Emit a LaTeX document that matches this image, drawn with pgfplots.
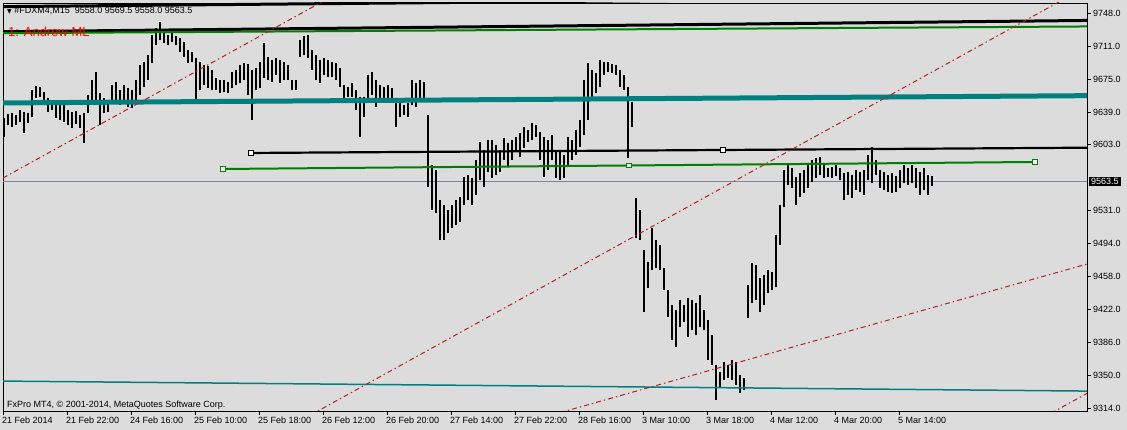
\documentclass[border=0pt]{standalone}
\usepackage{pgfplots}
\usepackage{pgfplotstable}
\pgfplotsset{compat=1.18}
\usepackage{fontspec}
\setmainfont{Liberation Sans}
\newfontfamily\dejavu{DejaVu Sans}
\definecolor{bgc}{RGB}{220,220,220}
\definecolor{mtgreen}{RGB}{0,128,0}
\definecolor{mtteal}{RGB}{0,128,128}
\definecolor{mtred}{RGB}{178,34,34}
\definecolor{pricegray}{RGB}{122,134,146}

\pgfplotstableread{
x lo hi
4 9612.0 9632.9
8 9625.2 9637.3
12 9623.0 9638.4
16 9625.2 9636.2
20 9628.5 9641.7
24 9616.4 9639.5
28 9627.4 9638.4
32 9634.0 9663.7
36 9654.9 9668.1
40 9656.0 9667.0
44 9649.4 9661.5
48 9639.5 9654.9
52 9641.7 9652.7
56 9632.9 9649.4
60 9630.7 9647.2
64 9628.5 9648.3
68 9625.2 9641.7
72 9621.9 9639.5
76 9626.3 9640.6
80 9621.9 9636.2
84 9605.4 9638.4
88 9638.4 9658.2
92 9649.4 9674.7
96 9652.7 9683.5
100 9625.2 9660.4
104 9638.4 9654.9
108 9639.5 9652.7
112 9649.4 9669.2
116 9652.7 9672.5
120 9647.2 9663.7
124 9649.4 9669.2
128 9645.0 9665.9
132 9643.9 9663.7
136 9652.7 9674.7
140 9658.2 9691.2
144 9667.0 9694.5
148 9674.7 9702.2
152 9693.4 9724.2
156 9713.2 9731.9
160 9718.7 9738.5
164 9715.4 9727.5
168 9713.2 9724.2
172 9716.5 9726.4
176 9713.2 9723.1
180 9705.5 9720.9
184 9700.0 9716.5
188 9693.4 9707.7
192 9694.5 9705.5
196 9652.7 9698.9
200 9663.7 9694.5
204 9669.2 9691.2
208 9665.9 9690.1
212 9663.7 9685.7
216 9663.7 9676.9
220 9660.4 9674.7
224 9661.5 9674.7
228 9660.4 9672.5
232 9665.9 9683.5
236 9669.2 9685.7
240 9671.4 9691.2
244 9674.7 9693.4
248 9658.2 9692.3
252 9630.7 9685.7
256 9663.7 9687.9
260 9665.9 9694.5
264 9676.9 9715.4
268 9674.7 9700.0
272 9672.5 9696.7
276 9680.2 9698.9
280 9671.4 9696.7
284 9674.7 9694.5
288 9674.7 9691.2
292 9663.7 9674.7
296 9663.7 9674.7
300 9700.0 9718.7
304 9702.2 9723.1
308 9698.9 9724.2
312 9685.7 9707.7
316 9674.7 9702.2
320 9671.4 9696.7
324 9680.2 9698.9
328 9678.0 9696.7
332 9678.0 9694.5
336 9674.7 9693.4
340 9667.0 9687.9
344 9652.7 9669.2
348 9656.0 9667.0
352 9656.0 9671.4
356 9641.7 9663.7
360 9612.0 9656.0
364 9634.0 9656.0
368 9652.7 9680.2
372 9658.2 9683.5
376 9645.0 9674.7
380 9649.4 9669.2
384 9652.7 9667.0
388 9649.4 9669.2
392 9652.7 9665.9
396 9623.0 9650.5
400 9634.0 9649.4
404 9636.2 9647.2
408 9634.0 9649.4
412 9647.2 9674.7
416 9645.0 9671.4
420 9652.7 9674.7
424 9650.5 9672.5
428 9557.0 9636.2
432 9531.7 9581.2
436 9528.4 9575.7
440 9498.7 9542.7
444 9498.7 9537.2
448 9506.4 9531.7
452 9511.9 9537.2
456 9515.2 9542.7
460 9518.5 9546.0
464 9537.2 9568.0
468 9542.7 9570.2
472 9537.2 9566.9
476 9548.2 9586.7
480 9564.7 9606.5
484 9557.0 9597.7
488 9573.5 9608.7
492 9566.9 9608.7
496 9570.2 9603.2
500 9573.5 9597.7
504 9586.7 9610.9
508 9579.0 9605.4
512 9586.7 9608.7
516 9597.7 9612.0
520 9590.0 9616.4
524 9599.9 9623.0
528 9606.5 9619.7
532 9608.7 9627.4
536 9612.0 9625.2
540 9586.7 9617.5
544 9568.0 9612.0
548 9575.7 9608.7
552 9586.7 9614.2
556 9566.9 9597.7
560 9564.7 9597.7
564 9566.9 9592.2
568 9579.0 9612.0
572 9586.7 9608.7
576 9592.2 9619.7
580 9601.0 9630.7
584 9614.2 9674.7
588 9630.7 9693.4
592 9652.7 9685.7
596 9660.4 9682.4
600 9667.0 9696.7
604 9680.2 9694.5
608 9683.5 9694.5
612 9682.4 9692.3
616 9680.2 9691.2
620 9667.0 9685.7
624 9663.7 9680.2
628 9588.9 9667.0
632 9623.0 9650.5
636 9500.9 9544.9
640 9498.7 9531.7
644 9419.5 9487.7
648 9445.9 9474.5
652 9465.7 9511.9
656 9467.9 9498.7
660 9465.7 9493.2
664 9443.7 9467.9
668 9414.0 9443.7
672 9388.7 9427.2
676 9381.0 9421.7
680 9403.0 9432.7
684 9408.5 9427.2
688 9392.0 9434.9
692 9399.7 9432.7
696 9394.2 9429.4
700 9403.0 9438.2
704 9399.7 9421.7
708 9366.7 9410.7
712 9361.2 9394.2
716 9322.7 9361.2
720 9335.9 9353.5
724 9344.7 9364.5
728 9346.9 9361.2
732 9344.7 9366.7
736 9339.2 9364.5
740 9330.4 9350.2
744 9333.7 9346.9
748 9412.9 9449.2
752 9429.4 9473.4
756 9432.7 9471.2
760 9419.5 9456.9
764 9427.2 9460.2
768 9440.4 9465.7
772 9443.7 9463.5
776 9446.9 9504.2
780 9493.2 9537.2
784 9535.0 9575.7
788 9559.2 9581.2
792 9555.9 9577.9
796 9537.2 9568.0
800 9546.0 9572.4
804 9550.4 9575.7
808 9555.9 9581.2
812 9562.5 9586.7
816 9566.9 9588.9
820 9570.2 9590.0
824 9566.9 9581.2
828 9568.0 9577.9
832 9566.9 9579.0
836 9569.1 9581.2
840 9564.7 9577.9
844 9542.7 9572.4
848 9548.2 9573.5
852 9544.9 9570.2
856 9553.7 9575.7
860 9551.5 9573.5
864 9548.2 9575.7
868 9564.7 9592.2
872 9561.4 9601.0
876 9570.2 9586.7
880 9555.9 9575.7
884 9553.7 9573.5
888 9551.5 9570.2
892 9550.4 9572.4
896 9551.5 9569.1
900 9555.9 9575.7
904 9561.4 9581.2
908 9559.2 9577.9
912 9561.4 9581.2
916 9555.9 9577.9
920 9548.2 9573.5
924 9553.7 9577.9
928 9548.2 9570.2
932 9558.0 9569.5
}\bars

\begin{document}
\begin{tikzpicture}
\fill[bgc] (0,0) rectangle (1127pt,430pt);
\path[use as bounding box] (0,0) rectangle (1127pt,430pt);
\begin{axis}[
  at={(3pt,19pt)}, anchor=south west,
  scale only axis, width=1084pt, height=408pt,
  xmin=3, xmax=1087, ymin=9310.7, ymax=9759.3,
  axis background/.style={fill=bgc},
  axis line style={black, line width=0.9pt},
  tick align=outside, major tick length=4pt,
  tick style={black, line width=0.8pt},
  xtick pos=left, ytick pos=right, yticklabel pos=right,
  xtick={3,67,131,195,259,323,387,451,515,579,643,707,771,835,899},
  xticklabels={21 Feb 2014,21 Feb 22:00,24 Feb 16:00,25 Feb 10:00,25 Feb 18:00,26 Feb 12:00,26 Feb 20:00,27 Feb 14:00,27 Feb 22:00,28 Feb 16:00,3 Mar 10:00,3 Mar 18:00,4 Mar 12:00,4 Mar 20:00,5 Mar 14:00},
  ytick={9748,9711.83,9675.67,9639.5,9603.33,9531,9494.83,9458.67,9422.5,9386.33,9350.17,9314},
  yticklabels={9748.0,9711.0,9675.0,9639.0,9603.0,9531.0,9494.0,9458.0,9422.0,9386.0,9350.0,9314.0},
  ticklabel style={font=\fontsize{9}{10}\selectfont, text=black},
  xticklabel style={anchor=north west, xshift=-3pt, inner sep=2pt},
  yticklabel style={anchor=west, inner sep=2pt},
  clip mode=individual,
]
% current price line
\addplot[pricegray, line width=1pt, forget plot] coordinates {(3,9563.5) (1087,9563.5)};
% price bars
\addplot[draw=none, mark=none, forget plot,
  error bars/.cd, y dir=plus, y explicit, error mark=none,
  error bar style={draw=black, line width=1.5pt}]
  table[x=x, y=lo, y error plus expr=\thisrow{hi}-\thisrow{lo}] {\bars};
% top lines
\addplot[black, line width=3pt] coordinates {(3,9755.3) (1087,9766.3)};
\addplot[black, line width=3pt] coordinates {(3,9727.7) (1087,9740.1)};
\addplot[mtgreen, line width=2pt] coordinates {(3,9726.1) (1087,9733.5)};
% teal thick
\addplot[mtteal, line width=5pt] coordinates {(3,9649.4) (1087,9657.4)};
% teal thin bottom
\addplot[mtteal, line width=1.5pt] coordinates {(3,9343.6) (1087,9332.6)};
% black trendline
\addplot[black, line width=2.2pt] coordinates {(251,9594.4) (1087,9600.2)};
\addplot[only marks, mark=square*, mark size=2.2pt, mark options={draw=black, fill=white, line width=1.2pt}] coordinates {(251,9594.4) (723,9597.7)};
% green trendline
\addplot[mtgreen, line width=2pt] coordinates {(223,9576.8) (1035,9584.5)};
\addplot[only marks, mark=square*, mark size=2.2pt, mark options={draw=mtgreen, fill=white, line width=1.2pt}] coordinates {(223,9576.8) (629,9580.6) (1035,9584.5)};
% red dashed pitchfork lines
\addplot[mtred, line width=1pt, dash pattern=on 5pt off 3pt on 1.5pt off 3pt] coordinates {(3,9566.9) (403,9809.7)};
\addplot[mtred, line width=1pt, dash pattern=on 5pt off 3pt on 1.5pt off 3pt] coordinates {(300,9299.8) (1087,9777.5)};
\addplot[mtred, line width=1pt, dash pattern=on 5pt off 3pt on 1.5pt off 3pt] coordinates {(1040,9301.6) (1087,9330.1)};
\addplot[mtred, line width=1pt, dash pattern=on 5pt off 3pt on 1.5pt off 3pt] coordinates {(560,9308.9) (1087,9472.3)};
\end{axis}
% texts
\node[anchor=west, inner sep=0pt, font=\fontsize{9}{10}\selectfont] at (7pt,419.3pt) {{\dejavu\fontsize{6}{7}\selectfont ▼}\ \#FDXM4,M15\ \ 9558.0 9569.5 9558.0 9563.5};
\node[anchor=west, inner sep=0pt, text=red, font=\fontsize{13}{15}\selectfont] at (8pt,398.3pt) {1: Andrew ML};
\node[anchor=west, inner sep=0pt, font=\fontsize{9}{10}\selectfont] at (7pt,25pt) {FxPro MT4, © 2001-2014, MetaQuotes Software Corp.};
\node[anchor=west, fill=black, text=white, inner xsep=2pt, inner ysep=1.5pt, font=\fontsize{9}{10}\selectfont] at (1089pt,248.8pt) {9563.5};
\end{tikzpicture}
\end{document}
